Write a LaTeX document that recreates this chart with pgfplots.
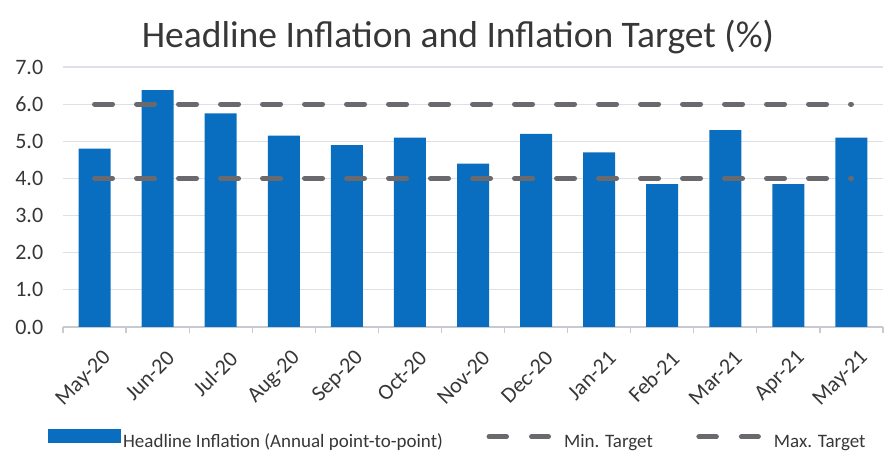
\documentclass[border=0pt]{standalone}
\usepackage{fontspec}
\setmainfont{Carlito}
\usepackage{pgfplots}
\pgfplotsset{compat=1.18}
\definecolor{barblue}{RGB}{10,110,192}
\definecolor{tgtgray}{RGB}{105,105,110}
\definecolor{gridc}{RGB}{222,224,232}
\definecolor{axc}{RGB}{200,202,210}
\definecolor{txt}{RGB}{55,55,55}
\begin{document}
\begin{tikzpicture}
\useasboundingbox (0,0) rectangle (884pt,460pt);
\begin{axis}[
  at={(63pt,133pt)}, anchor=south west,
  scale only axis, width=820pt, height=260pt,
  xmin=-0.5, xmax=12.5, ymin=0, ymax=7,
  axis x line*=bottom, axis y line*=left,
  y axis line style={draw=none},
  x axis line style={axc, line width=1.2pt},
  ytick={0,1,...,7},
  ytick style={draw=none},
  ymajorgrids, grid style={gridc, line width=1.2pt},
  /pgf/number format/fixed, /pgf/number format/fixed zerofill,
  /pgf/number format/precision=1, /pgf/number format/assume math mode=true,
  xtick={0,...,12},
  xticklabels={May-20,Jun-20,Jul-20,Aug-20,Sep-20,Oct-20,Nov-20,Dec-20,Jan-21,Feb-21,Mar-21,Apr-21,May-21},
  major x tick style={draw=none},
  minor xtick={-0.5,0.5,...,12.5},
  minor tick length=6pt, tick align=outside,
  minor tick style={axc, line width=1.2pt},
  tick label style={font=\fontsize{22}{22}\selectfont, text=txt},
  yticklabel style={xshift=-12pt},
  xticklabel style={rotate=45, anchor=east, yshift=-26pt, xshift=-4pt},
  legend columns=3,
  legend cell align=left,
  legend style={at={(-0.022,-0.435)}, anchor=west, draw=none, fill=none,
    font=\fontsize{19}{19}\selectfont, text=txt,
    nodes={inner sep=2pt},
    /tikz/every even column/.append style={column sep=39pt}},
]
\addplot[ybar, bar width=32pt, fill=barblue, draw=none,
  legend image code/.code={\fill[barblue] (0pt,-1pt) rectangle (73pt,13pt);}]
coordinates {(0,4.8) (1,6.38) (2,5.75) (3,5.15) (4,4.9) (5,5.1) (6,4.4) (7,5.2) (8,4.7) (9,3.85) (10,5.3) (11,3.85) (12,5.1)};
\addlegendentry{Headline Inflation (Annual point-to-point)}
\addplot[tgtgray, line width=5pt, line cap=round, dash pattern=on 18pt off 24pt,
  legend image code/.code={\draw[tgtgray, line width=5pt, line cap=round] (2.5pt,5pt)--(20pt,5pt) (45pt,5pt)--(62pt,5pt); \path (0pt,5pt) (73pt,5pt);}]
coordinates {(0,4) (12,4)};
\addlegendentry{Min. Target}
\addplot[tgtgray, line width=5pt, line cap=round, dash pattern=on 18pt off 24pt,
  legend image code/.code={\draw[tgtgray, line width=5pt, line cap=round] (2.5pt,5pt)--(20pt,5pt) (45pt,5pt)--(62pt,5pt); \path (0pt,5pt) (73pt,5pt);}]
coordinates {(0,6) (12,6)};
\addlegendentry{Max. Target}
\end{axis}
\node[anchor=base, font=\fontsize{37.5}{37.5}\selectfont, text=txt] at (458pt,412pt) {Headline Inflation and Inflation Target (\%)};
\end{tikzpicture}
\end{document}
